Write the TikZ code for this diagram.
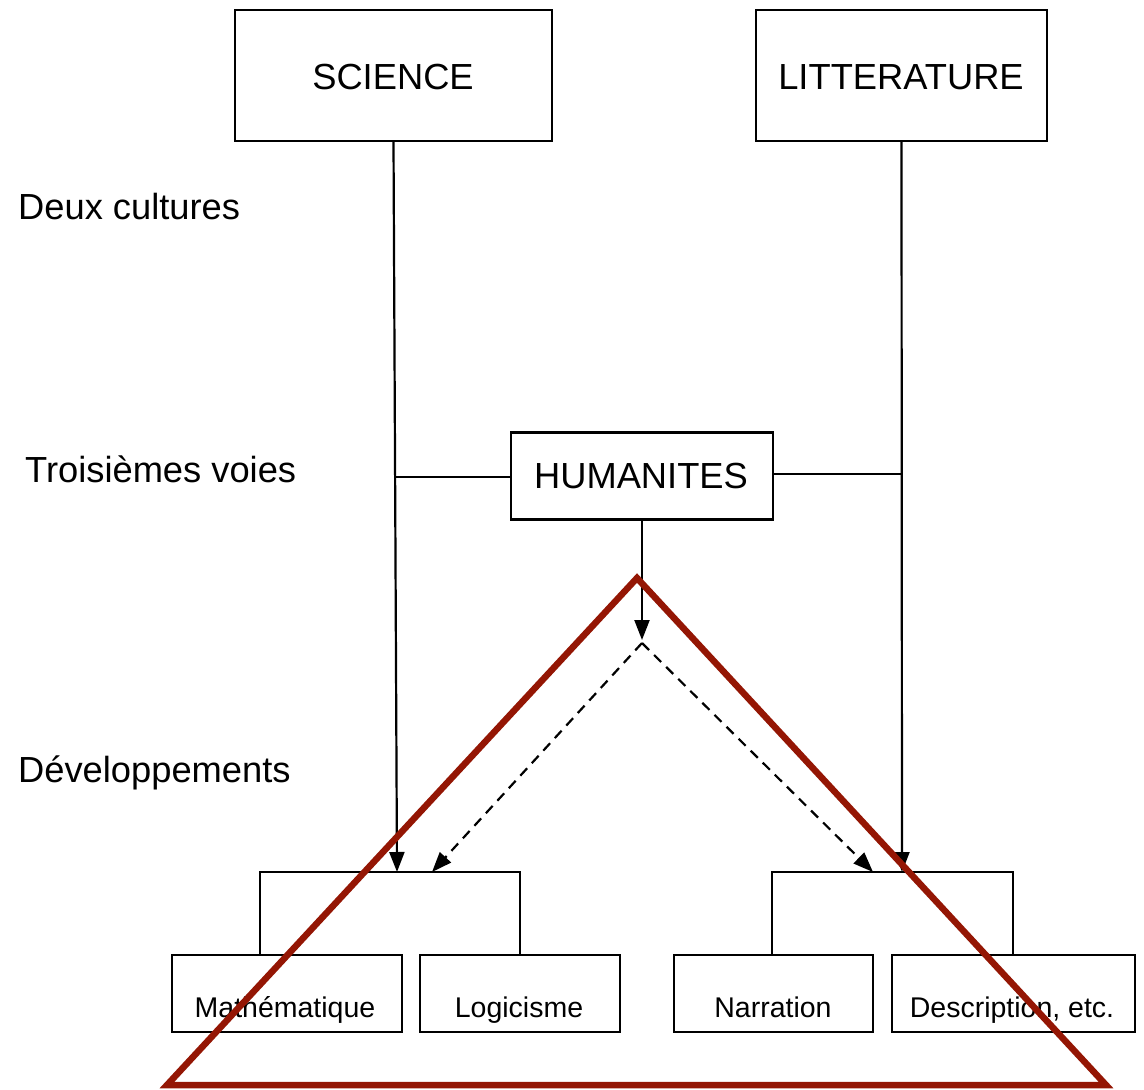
\documentclass[tikz,border=0pt]{standalone}
\usepackage{fontspec}
\setmainfont{Liberation Sans}
\usetikzlibrary{arrows.meta}
\definecolor{redtri}{RGB}{148,22,4}
\begin{document}
\begin{tikzpicture}[x=1pt,y=-1pt,
  ln/.style={line width=2.2pt, black},
  bigbox/.style={draw, ln, inner sep=0pt},
  bigtext/.style={inner sep=0pt, anchor=base, font=\fontsize{36.3}{40}\selectfont},
  smallbox/.style={draw, ln, inner sep=0pt, minimum height=77pt},
  smalltext/.style={inner sep=0pt, anchor=base, font=\fontsize{28.5}{32}\selectfont},
  sidelabel/.style={inner sep=0pt, anchor=base west, font=\fontsize{36.3}{40}\selectfont},
  arr/.style={ln, -{Triangle[length=20pt,width=15pt]}},
  dasharr/.style={ln, dash pattern=on 10pt off 7pt, -{Triangle[length=20pt,width=15pt]}},
  tri/.style={draw=redtri, line width=6.5pt, line join=miter}
]
\useasboundingbox (0,0) rectangle (1144,1090);

% top boxes
\node[bigbox, minimum width=317pt, minimum height=131pt] (sci) at (393.5,75.5) {};
\node[bigbox, minimum width=291pt, minimum height=131pt] (lit) at (901.5,75.5) {};
\node[bigbox, minimum width=262pt, minimum height=87pt] (hum) at (642,476) {};
\node[bigtext] (sciT) at (393,89) {SCIENCE};
\node[bigtext] (litT) at (901,89) {LITTERATURE};
\node[bigtext] (humT) at (641,488) {HUMANITES};

% side labels
\node[sidelabel] (l1) at (18,219) {Deux cultures};
\node[sidelabel] (l2) at (25,482) {Troisièmes voies};
\node[sidelabel] (l3) at (18,782) {Développements};

% group brackets
\coordinate (gl1) at (260,955);
\coordinate (gl2) at (260,872);
\coordinate (gl3) at (520,872);
\coordinate (gl4) at (520,955);
\draw[ln] (gl1) -- (gl2) -- (gl3) -- (gl4);
\coordinate (gr1) at (772,955);
\coordinate (gr2) at (772,872);
\coordinate (gr3) at (1013,872);
\coordinate (gr4) at (1013,955);
\draw[ln] (gr1) -- (gr2) -- (gr3) -- (gr4);

% bottom boxes
\node[smallbox, minimum width=230pt] (math) at (287,993.5) {};
\node[smallbox, minimum width=200pt] (logi) at (520,993.5) {};
\node[smallbox, minimum width=199pt] (narr) at (773.5,993.5) {};
\node[smallbox, minimum width=243pt] (desc) at (1013.5,993.5) {};
\node[smalltext] (mathT) at (285,1017) {Mathématique};
\node[smalltext] (logiT) at (519,1017) {Logicisme};
\node[smalltext] (narrT) at (773,1017) {Narration};
\node[smalltext] (descT) at (1012,1017) {Description, etc.};

% connectors
\coordinate (sciEnd) at (397,872);
\coordinate (litEnd) at (902,872);
\coordinate (jL) at (396,477);
\coordinate (jR) at (902,474);
\coordinate (split) at (642,643);
\coordinate (splitTip) at (642,640);
\coordinate (dashL) at (432,872);
\coordinate (dashR) at (873,872);

\draw[arr] (sci.south) -- (sciEnd);
\draw[arr] (lit.south) -- (litEnd);
\draw[ln] (jL) -- (jL -| hum.west);
\draw[ln] (hum.east |- jR) -- (jR);
\draw[arr] (hum.south) -- (splitTip);
\draw[dasharr] (split) -- (dashL);
\draw[dasharr] (split) -- (dashR);

% red triangle
\coordinate (tA) at (637,578);
\coordinate (tB) at (1106,1085);
\coordinate (tC) at (167,1085);
\draw[tri] (tA) -- (tB) -- (tC) -- cycle;
\end{tikzpicture}
\end{document}
